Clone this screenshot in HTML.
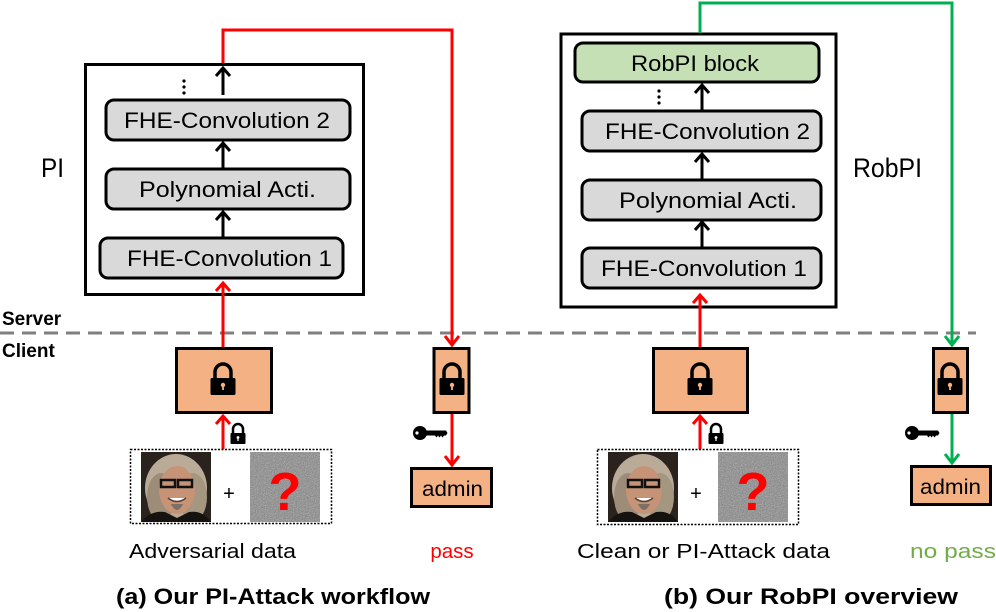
<!DOCTYPE html>
<html><head><meta charset="utf-8"><style>
html,body{margin:0;padding:0;background:#fff;}
svg{display:block;}
text{font-family:"Liberation Sans",sans-serif;}
</style></head><body>
<svg width="996" height="612" viewBox="0 0 996 612" xmlns="http://www.w3.org/2000/svg">
<defs>
  <g id="lock">
    <path d="M-8,0 v-6 a8,8 0 0 1 16,0 v6" fill="none" stroke="#000" stroke-width="3.5"/>
    <rect x="-12.5" y="0" width="25" height="17" rx="1.5" fill="#000"/>
    <circle cx="0" cy="7" r="2.2" fill="#f4b183"/>
    <rect x="-0.9" y="7" width="1.8" height="5" fill="#f4b183"/>
  </g>
  <g id="slock">
    <path d="M-5,0 v-4 a5,5 0 0 1 10,0 v4" fill="none" stroke="#000" stroke-width="2.5"/>
    <rect x="-7.5" y="0" width="15" height="11" rx="1" fill="#000"/>
    <circle cx="0" cy="4.5" r="1.4" fill="#fff"/>
    <rect x="-0.6" y="4.5" width="1.2" height="3.5" fill="#fff"/>
  </g>
  <g id="key">
    <circle cx="7" cy="8" r="7" fill="#000"/>
    <circle cx="4" cy="8" r="1.6" fill="#fff"/>
    <path d="M12,5.5 h21 l1.5,2.5 -1.5,2.5 h-2 l-1.5,2 -1.5,-2 -1.5,2 -1.5,-2 -1.5,2 -1.5,-2 h-10z" fill="#000"/>
  </g>
  <filter id="nz" x="0" y="0" width="100%" height="100%">
    <feTurbulence type="fractalNoise" baseFrequency="0.9" numOctaves="2" seed="3"/>
    <feColorMatrix type="saturate" values="0"/>
    <feComponentTransfer><feFuncR type="linear" slope="1.4" intercept="-0.2"/><feFuncG type="linear" slope="1.4" intercept="-0.2"/><feFuncB type="linear" slope="1.4" intercept="-0.2"/></feComponentTransfer>
  </filter>
  <g id="face">
    <rect x="0" y="0" width="70" height="70" fill="#2a221c"/>
    <ellipse cx="35" cy="36" rx="31" ry="34" fill="#b9ab98"/>
    <ellipse cx="20" cy="45" rx="14" ry="24" fill="#9c8c78"/>
    <ellipse cx="52" cy="45" rx="14" ry="24" fill="#a59680"/>
    <ellipse cx="36" cy="38" rx="18" ry="24" fill="#c79377"/>
    <rect x="20" y="28" width="14" height="7" fill="none" stroke="#111" stroke-width="2.5"/>
    <rect x="37" y="28" width="14" height="7" fill="none" stroke="#111" stroke-width="2.5"/>
    <path d="M27,46 q9,7 18,0" fill="#fff" stroke="#5a3a2a" stroke-width="1.5"/>
    <path d="M30,52 q6,12 12,0" fill="#7a7065"/>
    <path d="M0,70 q10,-12 24,-10 l12,6 12,-6 q14,-2 22,10z" fill="#151210"/>
  </g>
  <g id="noise">
    <rect x="0" y="0" width="70" height="70" fill="#888"/>
    <rect x="0" y="0" width="70" height="70" filter="url(#nz)" opacity="0.6"/>
    <text x="35" y="58" font-size="54" font-weight="bold" fill="#ff0000" text-anchor="middle">?</text>
  </g>
</defs>

<line x1="0" y1="333" x2="976" y2="333" stroke="#7f7f7f" stroke-width="3" stroke-dasharray="14,8"/>
<text x="2" y="325" font-size="19" font-weight="bold">Server</text>
<text x="2" y="357" font-size="19" font-weight="bold">Client</text>

<!-- ========== LEFT (a) ========== -->
<rect x="85.5" y="64.5" width="278" height="230" fill="none" stroke="#000" stroke-width="3"/>
<text x="41" y="177" font-size="27" textLength="23" lengthAdjust="spacingAndGlyphs">PI</text>
<g font-size="22" lengthAdjust="spacingAndGlyphs">
<rect x="106" y="100" width="244" height="40" rx="8" fill="#d9d9d9" stroke="#000" stroke-width="3"/>
<text x="124" y="128" textLength="206" lengthAdjust="spacingAndGlyphs">FHE-Convolution 2</text>
<rect x="106" y="169" width="244" height="40" rx="8" fill="#d9d9d9" stroke="#000" stroke-width="3"/>
<text x="139" y="197" textLength="177" lengthAdjust="spacingAndGlyphs">Polynomial Acti.</text>
<rect x="100" y="238" width="243" height="40" rx="8" fill="#d9d9d9" stroke="#000" stroke-width="3"/>
<text x="127" y="266" textLength="205" lengthAdjust="spacingAndGlyphs">FHE-Convolution 1</text>
</g>
<g fill="#000"><circle cx="184" cy="81" r="1.6"/><circle cx="184" cy="87" r="1.6"/><circle cx="184" cy="93" r="1.6"/></g>
<g stroke="#000" stroke-width="3" fill="none">
<line x1="223" y1="168" x2="223" y2="143"/><path d="M216,151 l7,-8 7,8"/>
<line x1="223" y1="237" x2="223" y2="212"/><path d="M216,220 l7,-8 7,8"/>
<line x1="223" y1="95" x2="223" y2="68"/><path d="M216,76 l7,-8 7,8"/>
</g>
<g stroke="#ff0000" stroke-width="3" fill="none">
<polyline points="223,63 223,30 452,30 452,344"/>
<path d="M445,336 l7,9 7,-9"/>
<line x1="223" y1="347" x2="223" y2="283"/><path d="M216,291 l7,-8 7,8"/>
<line x1="223" y1="449" x2="223" y2="416"/><path d="M216,424 l7,-8 7,8"/>
<line x1="452" y1="413" x2="452" y2="464"/><path d="M445,456 l7,9 7,-9"/>
</g>
<rect x="176.5" y="348.5" width="95" height="64" fill="#f4b183" stroke="#000" stroke-width="3"/>
<use href="#lock" x="223" y="378"/>
<rect x="434" y="348.5" width="35" height="64" fill="#f4b183" stroke="#000" stroke-width="3"/>
<use href="#lock" x="452" y="378"/>
<use href="#slock" x="238" y="433"/>
<use href="#key" x="413" y="425"/>
<rect x="411.5" y="468.5" width="80" height="38" fill="#f4b183" stroke="#000" stroke-width="3"/>
<text x="422" y="496" font-size="21" textLength="61" lengthAdjust="spacingAndGlyphs">admin</text>
<rect x="130.5" y="449.5" width="201" height="74" fill="none" stroke="#000" stroke-width="1.5" stroke-dasharray="2,1.5"/>
<use href="#face" x="141" y="452"/>
<text x="229" y="500" font-size="20" text-anchor="middle">+</text>
<use href="#noise" x="250" y="452"/>
<text x="129" y="558" font-size="20.5" textLength="167" lengthAdjust="spacingAndGlyphs">Adversarial data</text>
<text x="452" y="558" font-size="20.5" fill="#ff0000" text-anchor="middle">pass</text>
<text x="116" y="604" font-size="22" font-weight="bold" textLength="314" lengthAdjust="spacingAndGlyphs">(a) Our PI-Attack workflow</text>

<!-- ========== RIGHT (b) ========== -->
<rect x="561" y="34" width="275" height="273" fill="none" stroke="#000" stroke-width="3"/>
<text x="853" y="177" font-size="27" textLength="69" lengthAdjust="spacingAndGlyphs">RobPI</text>
<g font-size="22">
<rect x="575" y="43" width="244" height="39" rx="8" fill="#c5e0b4" stroke="#000" stroke-width="3"/>
<text x="631" y="71" textLength="128" lengthAdjust="spacingAndGlyphs">RobPI block</text>
<rect x="582" y="111" width="239" height="40" rx="8" fill="#d9d9d9" stroke="#000" stroke-width="3"/>
<text x="605" y="139" textLength="205" lengthAdjust="spacingAndGlyphs">FHE-Convolution 2</text>
<rect x="582" y="180" width="239" height="40" rx="8" fill="#d9d9d9" stroke="#000" stroke-width="3"/>
<text x="619" y="208" textLength="178" lengthAdjust="spacingAndGlyphs">Polynomial Acti.</text>
<rect x="582" y="248" width="239" height="40" rx="8" fill="#d9d9d9" stroke="#000" stroke-width="3"/>
<text x="601" y="276" textLength="206" lengthAdjust="spacingAndGlyphs">FHE-Convolution 1</text>
</g>
<g fill="#000"><circle cx="659" cy="91" r="1.6"/><circle cx="659" cy="97" r="1.6"/><circle cx="659" cy="103" r="1.6"/></g>
<g stroke="#000" stroke-width="3" fill="none">
<line x1="702" y1="110" x2="702" y2="85"/><path d="M695,93 l7,-8 7,8"/>
<line x1="702" y1="179" x2="702" y2="154"/><path d="M695,162 l7,-8 7,8"/>
<line x1="702" y1="247" x2="702" y2="222"/><path d="M695,230 l7,-8 7,8"/>
</g>
<g stroke="#00b050" stroke-width="3" fill="none">
<polyline points="700,33 700,3 952,3 952,344"/>
<path d="M945,336 l7,9 7,-9"/>
<line x1="952" y1="413" x2="952" y2="462"/><path d="M945,454 l7,9 7,-9"/>
</g>
<g stroke="#ff0000" stroke-width="3" fill="none">
<line x1="700" y1="347" x2="700" y2="295"/><path d="M693,303 l7,-8 7,8"/>
<line x1="700" y1="449" x2="700" y2="416"/><path d="M693,424 l7,-8 7,8"/>
</g>
<rect x="653.5" y="348.5" width="94" height="64" fill="#f4b183" stroke="#000" stroke-width="3"/>
<use href="#lock" x="700" y="378"/>
<rect x="933.5" y="348.5" width="34" height="64" fill="#f4b183" stroke="#000" stroke-width="3"/>
<use href="#lock" x="950" y="378"/>
<use href="#slock" x="716" y="433"/>
<use href="#key" x="905" y="425"/>
<rect x="911.5" y="466.5" width="79" height="38" fill="#f4b183" stroke="#000" stroke-width="3"/>
<text x="920" y="494" font-size="21" textLength="61" lengthAdjust="spacingAndGlyphs">admin</text>
<rect x="597.5" y="449.5" width="201" height="75" fill="none" stroke="#000" stroke-width="1.5" stroke-dasharray="2,1.5"/>
<use href="#face" x="608" y="452"/>
<text x="696" y="500" font-size="20" text-anchor="middle">+</text>
<use href="#noise" x="718" y="452"/>
<text x="577" y="558" font-size="20.5" textLength="253" lengthAdjust="spacingAndGlyphs">Clean or PI-Attack data</text>
<text x="910" y="558" font-size="20.5" fill="#70ad47" textLength="86" lengthAdjust="spacingAndGlyphs">no pass</text>
<text x="664" y="604" font-size="22" font-weight="bold" textLength="294" lengthAdjust="spacingAndGlyphs">(b) Our RobPI overview</text>
</svg>
</body></html>
